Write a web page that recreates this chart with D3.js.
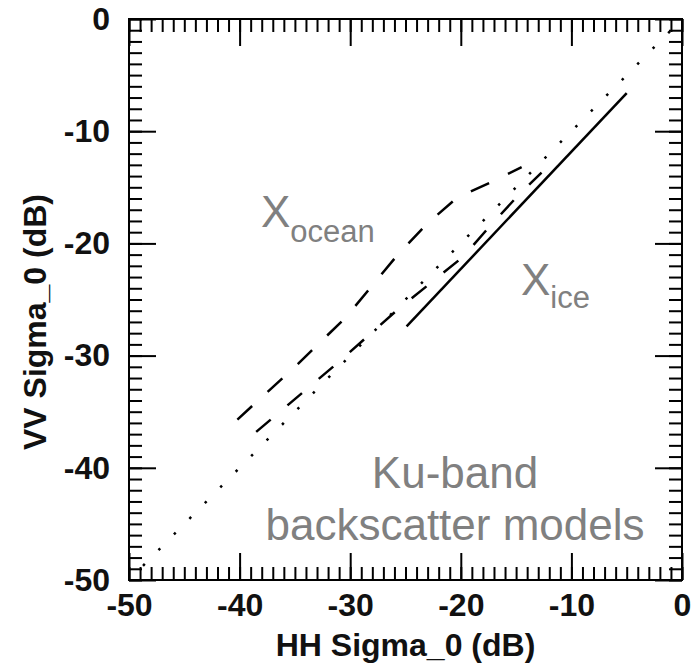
<!DOCTYPE html>
<html>
<head>
<meta charset="utf-8">
<script src="https://cdn.jsdelivr.net/npm/d3@7"></script>
<style>
  body { margin: 0; background: #fff; }
  svg { display: block; font-family: "Liberation Sans", Arial, sans-serif; }
  .tick text { font-size: 32px; fill: #111; font-weight: bold; }
</style>
</head>
<body>
<div id="chart"></div>
<script>
'use strict'

// axis ticks (dB)
const majorTicks = [-50, -40, -30, -20, -10, 0]
const minorTicks = d3.range(-50, 1, 1)

// model curves: [HH, VV] in dB
const oneToOne = [[-50, -50], [0, 0]]
const oceanUpper = [[-40.2, -35.7], [-35, -31.0], [-30.4, -26.6], [-25.7, -21.0], [-23.0, -18.2], [-20.3, -15.9], [-17.4, -14.6], [-14.5, -13.2]]
const oceanLower = [[-38.5, -36.8], [-31.2, -30.7], [-25.7, -25.9], [-19.8, -21.2], [-17.4, -18.5], [-14.6, -15.5], [-12.7, -13.7]]
const iceLine = [[-24.9, -27.4], [-5.0, -6.6]]

const margin = { top: 19, right: 10, bottom: 90, left: 129 }
const width = 692 - margin.left - margin.right
const height = 670 - margin.top - margin.bottom

const svg = d3.select('#chart').append('svg')
  .attr('width', 692)
  .attr('height', 670)

const g = svg.append('g')
  .attr('transform', 'translate(' + margin.left + ',' + margin.top + ')')

const x = d3.scaleLinear().domain([-50, 0]).range([0, width])
const y = d3.scaleLinear().domain([-50, 0]).range([height, 0])

const label = function (d) { return String(d) }

// minor ticks on all four sides, pointing inward
g.append('g').attr('transform', 'translate(0,' + height + ')')
  .call(d3.axisBottom(x).tickValues(minorTicks).tickSize(-13).tickFormat(''))
g.append('g')
  .call(d3.axisTop(x).tickValues(minorTicks).tickSize(-13).tickFormat(''))
g.append('g')
  .call(d3.axisLeft(y).tickValues(minorTicks).tickSize(-13).tickFormat(''))
g.append('g').attr('transform', 'translate(' + width + ',0)')
  .call(d3.axisRight(y).tickValues(minorTicks).tickSize(-13).tickFormat(''))

// major ticks with labels
g.append('g').attr('transform', 'translate(0,' + height + ')')
  .call(d3.axisBottom(x).tickValues(majorTicks).tickSize(-27).tickPadding(13).tickFormat(label))
g.append('g')
  .call(d3.axisTop(x).tickValues(majorTicks).tickSize(-27).tickFormat(''))
g.append('g')
  .call(d3.axisLeft(y).tickValues(majorTicks).tickSize(-27).tickPadding(19).tickFormat(label))
g.append('g').attr('transform', 'translate(' + width + ',0)')
  .call(d3.axisRight(y).tickValues(majorTicks).tickSize(-27).tickFormat(''))

g.selectAll('.domain').remove()
g.selectAll('.tick line').attr('stroke', '#000').attr('stroke-width', 2)
g.selectAll('.tick text').attr('font-family', null).attr('font-size', null)

// frame
g.append('rect')
  .attr('width', width).attr('height', height)
  .attr('fill', 'none').attr('stroke', '#000').attr('stroke-width', 2)

const line = d3.line()
  .x(function (d) { return x(d[0]) })
  .y(function (d) { return y(d[1]) })

g.append('path').datum(oneToOne)
  .attr('d', line).attr('fill', 'none').attr('stroke', '#000')
  .attr('stroke-width', 2.5).attr('stroke-dasharray', '2.5,19.5').attr('stroke-dashoffset', -20)

g.append('path').datum(oceanUpper)
  .attr('d', line).attr('fill', 'none').attr('stroke', '#000')
  .attr('stroke-width', 2.5).attr('stroke-dasharray', '20,21')

g.append('path').datum(oceanLower)
  .attr('d', line).attr('fill', 'none').attr('stroke', '#000')
  .attr('stroke-width', 2.5).attr('stroke-dasharray', '19,22')

g.append('path').datum(iceLine)
  .attr('d', line).attr('fill', 'none').attr('stroke', '#000')
  .attr('stroke-width', 2.5)

// annotations
const gray = '#808080'
const xo = svg.append('text').attr('x', 261).attr('y', 227).attr('fill', gray).attr('font-size', 44)
xo.append('tspan').text('X')
xo.append('tspan').attr('dy', 15).attr('font-size', 31).text('ocean')

const xi = svg.append('text').attr('x', 521).attr('y', 295).attr('fill', gray).attr('font-size', 44)
xi.append('tspan').text('X')
xi.append('tspan').attr('dy', 13).attr('font-size', 31).text('ice')

svg.append('text').attr('x', 455).attr('y', 488).attr('text-anchor', 'middle')
  .attr('fill', gray).attr('font-size', 44).text('Ku-band')
svg.append('text').attr('x', 455).attr('y', 540).attr('text-anchor', 'middle')
  .attr('fill', gray).attr('font-size', 44).text('backscatter models')

// axis titles
svg.append('text').attr('x', margin.left + width / 2).attr('y', 656).attr('text-anchor', 'middle')
  .attr('font-size', 32).attr('font-weight', 'bold').attr('fill', '#111').text('HH Sigma_0 (dB)')
svg.append('text').attr('transform', 'translate(46,322) rotate(-90)').attr('text-anchor', 'middle')
  .attr('font-size', 32).attr('font-weight', 'bold').attr('fill', '#111').text('VV Sigma_0 (dB)')
</script>
</body>
</html>
